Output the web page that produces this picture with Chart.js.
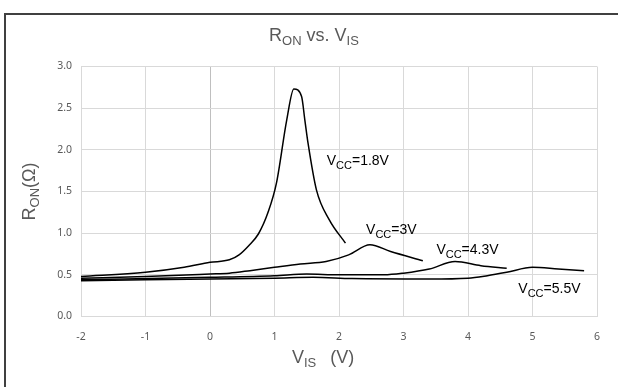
<!DOCTYPE html>
<html>
<head>
<meta charset="utf-8">
<script src="https://cdn.jsdelivr.net/npm/chart.js@4/dist/chart.umd.min.js"></script>
<style>
  html, body { margin: 0; padding: 0; background: #fff; }
  #wrap { width: 618px; height: 387px; position: relative; }
</style>
</head>
<body>
<div id="wrap"><canvas id="myChart" width="618" height="387"></canvas></div>
<script>
// Dữ liệu các đường cong R_ON theo V_IS
const vcc18X = [-2, -1, -0.4, 0, 0.3, 0.45, 0.6, 0.75, 0.9, 1.03, 1.19, 1.3, 1.42, 1.47, 1.52, 1.65, 1.85, 2.1];
const vcc18Y = [0.48, 0.53, 0.59, 0.65, 0.68, 0.74, 0.85, 0.99, 1.25, 1.60, 2.36, 2.73, 2.64, 2.36, 2.08, 1.52, 1.16, 0.88];

const vcc3X = [-2, -1, 0, 0.3, 0.62, 1.0, 1.4, 1.8, 2.15, 2.48, 2.8, 3.3];
const vcc3Y = [0.46, 0.48, 0.51, 0.52, 0.55, 0.59, 0.63, 0.66, 0.74, 0.86, 0.78, 0.67];

const vcc43X = [-2, 0, 1, 1.5, 2, 2.7, 3.0, 3.4, 3.8, 4.2, 4.6];
const vcc43Y = [0.44, 0.47, 0.49, 0.51, 0.50, 0.50, 0.52, 0.57, 0.66, 0.61, 0.58];

const vcc55X = [-2, 0, 1, 1.6, 2.2, 3.4, 4.0, 4.3, 4.6, 5.0, 5.4, 5.8];
const vcc55Y = [0.43, 0.45, 0.46, 0.47, 0.455, 0.45, 0.46, 0.49, 0.53, 0.59, 0.57, 0.55];

// Nhãn của từng đường (văn bản chính, chỉ số dưới, phần sau)
const curveLabels = [
    { main: "V", sub: "CC", rest: "=1.8V", x: 1.81, y: 1.82 },
    { main: "V", sub: "CC", rest: "=3V", x: 2.42, y: 0.99 },
    { main: "V", sub: "CC", rest: "=4.3V", x: 3.51, y: 0.75 },
    { main: "V", sub: "CC", rest: "=5.5V", x: 4.78, y: 0.28 }
];

const FONT = "'Liberation Sans', Arial, sans-serif";
const TEXT_COLOR = "#595959";

function toPoints(xs, ys) {
    return xs.map((x, i) => ({ x: x, y: ys[i] }));
}

function makeSet(label, xs, ys) {
    return {
        label: label,
        data: toPoints(xs, ys),
        borderColor: "#000",
        borderWidth: 1.5,
        pointRadius: 0,
        fill: false,
        cubicInterpolationMode: "monotone"
    };
}

// Vẽ một chuỗi có chỉ số dưới
function drawSubText(ctx, parts, x, y) {
    let cx = x;
    parts.forEach(p => {
        ctx.font = p.size + "px " + FONT;
        ctx.fillText(p.text, cx, y + (p.dy || 0));
        cx += ctx.measureText(p.text).width + (p.gap || 0);
    });
    return cx - x;
}

function measureParts(ctx, parts) {
    let w = 0;
    parts.forEach(p => {
        ctx.font = p.size + "px " + FONT;
        w += ctx.measureText(p.text).width + (p.gap || 0);
    });
    return w;
}

const decorPlugin = {
    id: "decor",
    beforeDraw(chart) {
        const ctx = chart.ctx;
        ctx.save();
        ctx.fillStyle = "#fff";
        ctx.fillRect(0, 0, chart.width, chart.height);
        // khung viền ngoài
        ctx.strokeStyle = "#404040";
        ctx.lineWidth = 2;
        ctx.beginPath();
        ctx.moveTo(5, chart.height + 2);
        ctx.lineTo(5, 14);
        ctx.lineTo(chart.width + 2, 14);
        ctx.stroke();
        ctx.restore();
    },
    afterDraw(chart) {
        const ctx = chart.ctx;
        const xs = chart.scales.x;
        const ys = chart.scales.y;
        ctx.save();
        ctx.fillStyle = TEXT_COLOR;
        ctx.textBaseline = "alphabetic";
        ctx.textAlign = "left";

        // tiêu đề
        const titleParts = [
            { text: "R", size: 18 },
            { text: "ON", size: 13, dy: 4 },
            { text: " vs. V", size: 18 },
            { text: "IS", size: 13, dy: 4 }
        ];
        const tw = measureParts(ctx, titleParts);
        drawSubText(ctx, titleParts, 314 - tw / 2, 41);

        // tiêu đề trục x
        const xParts = [
            { text: "V", size: 18 },
            { text: "IS", size: 13, dy: 4, gap: 14 },
            { text: "(V)", size: 18 }
        ];
        drawSubText(ctx, xParts, 292, 363);

        // tiêu đề trục y
        const yParts = [
            { text: "R", size: 18 },
            { text: "ON", size: 13, dy: 4 },
            { text: "(Ω)", size: 18 }
        ];
        const yw = measureParts(ctx, yParts);
        ctx.save();
        ctx.translate(35, 191.5);
        ctx.rotate(-Math.PI / 2);
        drawSubText(ctx, yParts, -yw / 2, 0);
        ctx.restore();

        // nhãn đường cong
        ctx.fillStyle = "#000";
        curveLabels.forEach(l => {
            const px = xs.getPixelForValue(l.x);
            const py = ys.getPixelForValue(l.y);
            drawSubText(ctx, [
                { text: l.main, size: 14 },
                { text: l.sub, size: 11, dy: 4 },
                { text: l.rest, size: 14 }
            ], px, py);
        });
        ctx.restore();
    }
};

const ctx = document.getElementById("myChart").getContext("2d");
const myChart = new Chart(ctx, {
    type: "line",
    data: {
        datasets: [
            makeSet("Vcc=1.8V", vcc18X, vcc18Y),
            makeSet("Vcc=3V", vcc3X, vcc3Y),
            makeSet("Vcc=4.3V", vcc43X, vcc43Y),
            makeSet("Vcc=5.5V", vcc55X, vcc55Y)
        ]
    },
    options: {
        responsive: false,
        animation: false,
        layout: { padding: { left: 0, right: 21, top: 66.5, bottom: 0 } },
        plugins: {
            legend: { display: false },
            title: { display: false },
            tooltip: { enabled: false }
        },
        scales: {
            x: {
                type: "linear",
                min: -2,
                max: 6,
                afterFit: s => { s.height = 70.5; },
                border: { display: false },
                grid: {
                    drawTicks: false,
                    color: c => (c.tick && c.tick.value === 0) ? "#bfbfbf" : "#d9d9d9",
                    lineWidth: 1
                },
                ticks: {
                    stepSize: 1,
                    padding: 14,
                    color: TEXT_COLOR,
                    font: { family: "'Noto Sans', sans-serif", size: 10.5 }
                }
            },
            y: {
                min: 0,
                max: 3,
                afterFit: s => { s.width = 81; },
                border: { display: false },
                grid: { drawTicks: false, color: "#d9d9d9", lineWidth: 1 },
                ticks: {
                    stepSize: 0.5,
                    padding: 9,
                    color: TEXT_COLOR,
                    font: { family: "'Noto Sans', sans-serif", size: 10.5 },
                    callback: v => v.toFixed(1)
                }
            }
        }
    },
    plugins: [decorPlugin]
});
</script>
</body>
</html>
